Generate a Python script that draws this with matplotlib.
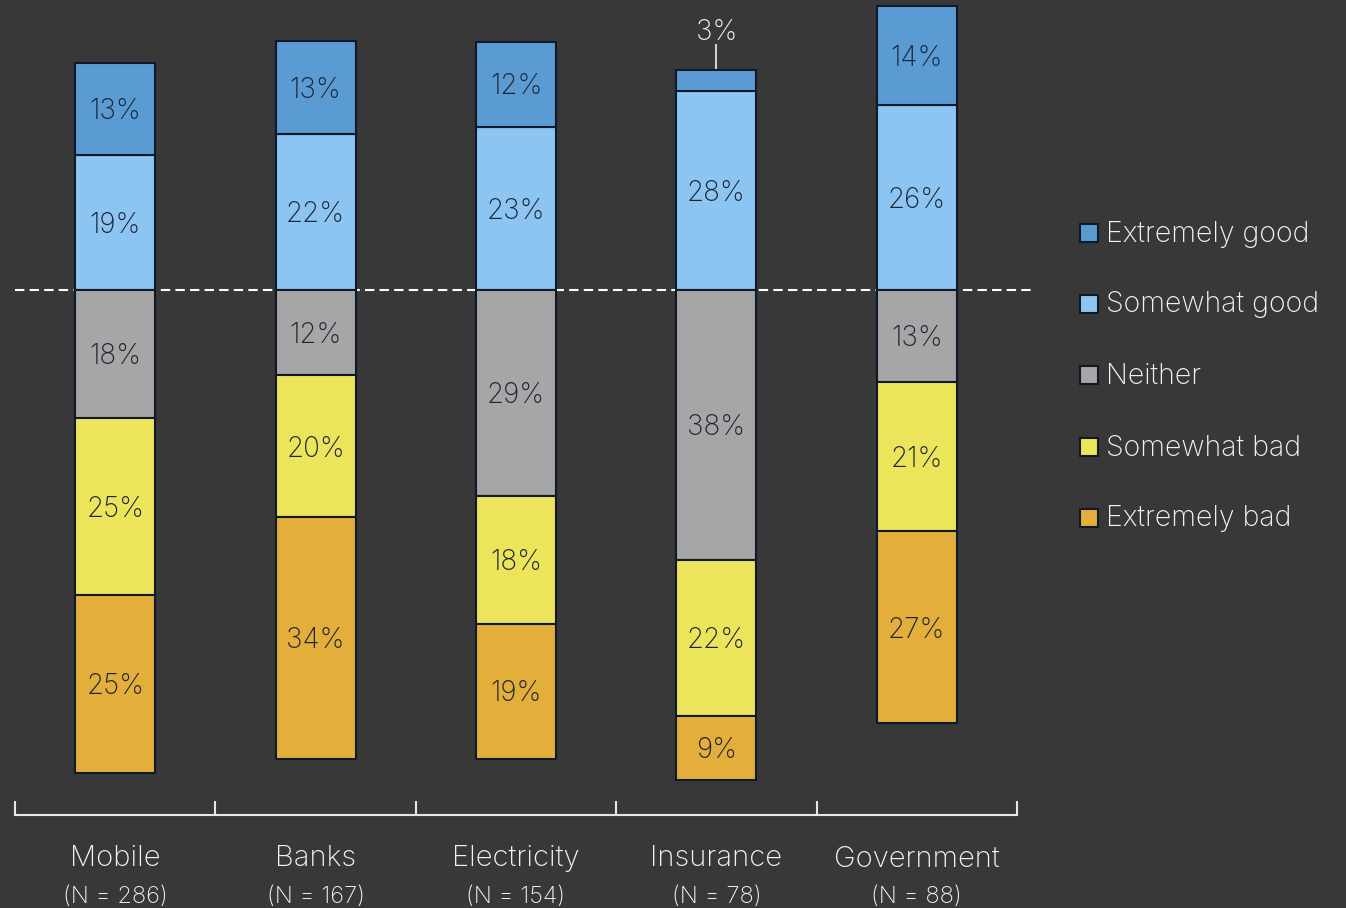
import matplotlib
matplotlib.use("Agg")
import matplotlib.pyplot as plt
from matplotlib.patches import Rectangle
import numpy as np

categories = ["Mobile", "Banks", "Electricity", "Insurance", "Government"]
sample_sizes = [286, 167, 154, 78, 88]

series_names = ["Extremely good", "Somewhat good", "Neither", "Somewhat bad", "Extremely bad"]
extremely_good = [13, 13, 12, 3, 14]
somewhat_good = [19, 22, 23, 28, 26]
neither = [18, 12, 29, 38, 13]
somewhat_bad = [25, 20, 18, 22, 21]
extremely_bad = [25, 34, 19, 9, 27]

colors = ["#5B9BD3", "#8CC5F1", "#A6A6A6", "#ECE55B", "#E3AE3A"]
bg = "#383838"
edge = "#0E1A2A"
label_color = "#1B2433"
text_color = "#F2F2F2"

plt.rcParams["font.family"] = ["Inter", "DejaVu Sans"]
plt.rcParams["font.weight"] = "light"

W, H = 1346, 908
fig = plt.figure(figsize=(W / 100, H / 100), dpi=100, facecolor=bg)
ax = fig.add_axes([15 / W, 93 / H, 1002 / W, 815 / H], facecolor=bg)

x = np.arange(len(categories))
bar_w = 0.4
nudge = 0.4  # small downward shift so digits sit optically centred

# positive side: good answers stacked upward from zero
up_series = [somewhat_good, extremely_good]
up_colors = [colors[1], colors[0]]
bottom = np.zeros(len(categories))
for vals, c in zip(up_series, up_colors):
    v = np.array(vals, dtype=float)
    ax.bar(x, v, bar_w, bottom=bottom, color=c, edgecolor=edge, linewidth=1.5, zorder=3)
    for xi, b, vi in zip(x, bottom, v):
        if vi >= 5:
            ax.text(xi, b + vi / 2 - nudge, f"{int(vi)}%", ha="center", va="center",
                    fontsize=20, color=label_color, zorder=4)
        else:
            top = b + vi
            ax.plot([xi, xi], [top, top + 3.5], color="#CFCFCF", lw=1.5, zorder=2)
            ax.text(xi, top + 5.6 - nudge, f"{int(vi)}%", ha="center", va="center",
                    fontsize=20, color=text_color, zorder=4)
    bottom = bottom + v

# negative side: neutral and bad answers stacked downward from zero
down_series = [neither, somewhat_bad, extremely_bad]
down_colors = [colors[2], colors[3], colors[4]]
bottom = np.zeros(len(categories))
for vals, c in zip(down_series, down_colors):
    v = np.array(vals, dtype=float)
    ax.bar(x, -v, bar_w, bottom=bottom, color=c, edgecolor=edge, linewidth=1.5, zorder=3)
    for xi, b, vi in zip(x, bottom, v):
        ax.text(xi, b - vi / 2 - nudge, f"{int(vi)}%", ha="center", va="center",
                fontsize=20, color=label_color, zorder=4)
    bottom = bottom - v

# dashed zero line
ax.plot([-0.5, 4.58], [0, 0], color="white", lw=1.5, ls=(0, (4.5, 2.5)),
        zorder=2, clip_on=False)

px_per_pct = 7.1
ax.set_xlim(-0.5, 4.5)
ax.set_ylim(-(815 - 290) / px_per_pct, 290 / px_per_pct)

for s in ["top", "left", "right"]:
    ax.spines[s].set_visible(False)
ax.spines["bottom"].set_color("#E6E6E6")
ax.spines["bottom"].set_linewidth(1.5)
ax.set_yticks([])
ax.set_xticks(np.arange(-0.5, 4.51, 1.0))
ax.set_xticklabels([])
ax.tick_params(axis="x", direction="in", length=10, width=1.5, color="#E6E6E6")

for xi, name, n in zip(x, categories, sample_sizes):
    ax.text(xi, -44 / 815, name, transform=ax.get_xaxis_transform(), ha="center",
            va="center", fontsize=21, color=text_color, clip_on=False)
    ax.text(xi, -82 / 815, f"(N = {n})", transform=ax.get_xaxis_transform(), ha="center",
            va="center", fontsize=17, color=text_color, clip_on=False)

# legend
legend_y = [232, 303, 374, 446, 517]
for name, c, yy in zip(series_names, colors, legend_y):
    fig.patches.append(Rectangle((1080 / W, 1 - (yy + 10) / H), 18 / W, 18 / H,
                                 transform=fig.transFigure, facecolor=c,
                                 edgecolor=edge, linewidth=1.5))
    fig.text(1106 / W, 1 - (yy + 2) / H, name, ha="left", va="center",
             fontsize=20.5, color=text_color)

fig.savefig("out.png", dpi=100, facecolor=bg)
